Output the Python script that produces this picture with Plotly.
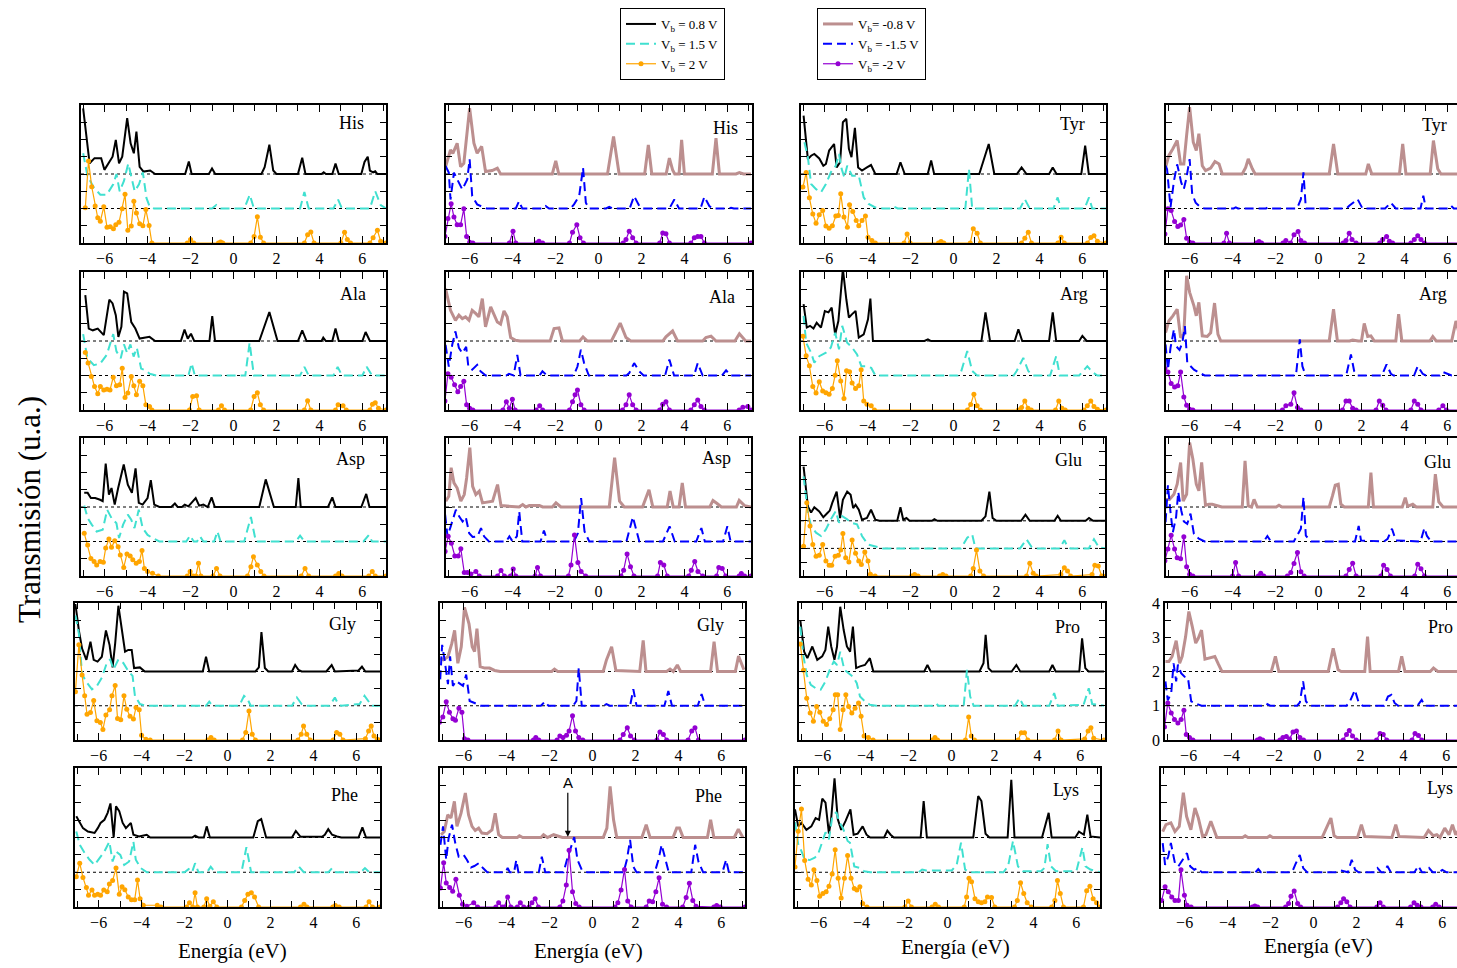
import plotly.graph_objects as go

# ------------------------------------------------------------------
# DATA  (energy eV, transmission)
# positive bias: p08 = 0.8 V, p15 = 1.5 V, p20 = 2 V
# negative bias: m08 = -0.8 V, m15 = -1.5 V, m20 = -2 V
# ------------------------------------------------------------------
his_p08 = [(-7.0,1.9),(-6.7,0.31),(-6.47,0.46),(-6.16,0.46),(-6.01,0.12),(-5.86,0.26),(-5.63,0.5),(-5.48,0.99),(-5.33,0.31),(-5.18,0.5),(-4.95,1.62),(-4.79,0.89),(-4.64,0.6),(-4.52,1.23),(-4.37,0.21),(-4.19,0.07),(-3.88,0.1),(-3.65,0),(-2.25,0),(-2.08,0.36),(-1.95,0),(-1.15,0),(-1.0,0.16),(-0.85,0),(1.3,0),(1.45,0.2),(1.67,0.85),(1.85,0.1),(2.0,0),(3.0,0),(3.2,0.47),(3.35,0),(4.1,0),(4.2,0.05),(4.3,0),(4.6,0),(4.75,0.3),(4.9,0),(5.95,0),(6.1,0.35),(6.25,0.5),(6.35,0.1),(6.5,0.05),(6.6,0.08),(6.7,0),(7.1,0)]
his_p15 = [(-7.0,1.6),(-6.8,0.95),(-6.5,0.6),(-6.2,0.4),(-5.9,0.4),(-5.6,0.7),(-5.45,1.0),(-5.3,0.5),(-5.1,0.8),(-4.9,1.3),(-4.75,0.9),(-4.6,0.5),(-4.4,0.7),(-4.22,1.05),(-4.05,0.3),(-3.9,0.05),(-3.7,0),(-1.0,0),(-0.8,0.1),(-0.6,0),(0.5,0),(0.76,0.4),(0.95,0),(3.1,0),(3.3,0.48),(3.5,0),(4.65,0),(4.87,0.26),(5.05,0),(6.35,0),(6.6,0.5),(6.85,0.1),(7.1,0)]
his_p20 = [(-6.9,1.02),(-6.75,2.38),(-6.6,1.63),(-6.44,1.07),(-6.32,0.73),(-6.2,0.63),(-6.04,1.05),(-5.89,0.46),(-5.74,0.47),(-5.59,0.41),(-5.48,0.53),(-5.33,0.6),(-5.18,0.99),(-5.05,1.41),(-4.92,0.37),(-4.76,0.49),(-4.64,1.21),(-4.52,0.87),(-4.37,0.56),(-4.22,0.5),(-4.08,0.97),(-3.93,0.51),(-3.8,0),(-2.15,0),(-2.0,0.1),(-1.85,0),(-0.7,0),(-0.6,0.03),(-0.5,0),(0.8,0),(0.96,0.19),(1.11,0.76),(1.25,0.17),(1.4,0),(3.3,0),(3.45,0.24),(3.6,0.32),(3.75,0),(5.0,0),(5.17,0.31),(5.3,0.1),(5.45,0),(6.35,0),(6.5,0.15),(6.7,0.37),(6.85,0.05),(7.1,0)]

ala_p08 = [(-6.9,1.33),(-6.74,0.36),(-6.55,0.31),(-6.32,0.36),(-6.04,0.17),(-5.78,1.2),(-5.63,1.09),(-5.48,0.75),(-5.36,0.12),(-5.22,0.41),(-5.1,1.43),(-4.95,1.38),(-4.76,0.55),(-4.57,0.36),(-4.37,0.07),(-4.11,0.1),(-3.91,0.12),(-3.65,0),(-2.45,0),(-2.28,0.33),(-2.13,0.07),(-1.98,0.21),(-1.83,0),(-1.12,0),(-0.99,0.72),(-0.86,0),(1.2,0),(1.67,0.84),(2.05,0),(3.0,0),(3.2,0.31),(3.4,0),(4.1,0),(4.18,0.1),(4.3,0),(4.6,0),(4.75,0.36),(4.9,0),(6.0,0),(6.15,0.26),(6.35,0),(7.1,0)]
ala_p15 = [(-7.0,1.2),(-6.8,0.5),(-6.5,0.3),(-6.2,0.35),(-5.9,0.6),(-5.6,1.2),(-5.45,0.7),(-5.25,0.5),(-5.1,0.9),(-4.95,0.65),(-4.8,0.9),(-4.65,0.55),(-4.5,0.8),(-4.3,0.2),(-4.1,0.15),(-3.9,0.05),(-3.6,0),(-2.1,0),(-1.95,0.35),(-1.8,0),(0.55,0),(0.75,0.95),(0.95,0),(3.1,0),(3.3,0.25),(3.5,0),(4.65,0),(4.85,0.25),(5.05,0),(6.0,0),(6.2,0.25),(6.45,0),(7.1,0)]
ala_p20 = [(-6.9,1.67),(-6.77,1.36),(-6.62,0.97),(-6.47,0.68),(-6.32,0.47),(-6.2,0.68),(-6.04,0.58),(-5.89,0.6),(-5.75,0.58),(-5.6,0.95),(-5.45,0.7),(-5.3,0.73),(-5.18,1.21),(-5.05,0.36),(-4.92,0.49),(-4.76,0.97),(-4.64,0.7),(-4.52,0.44),(-4.37,0.83),(-4.22,0.7),(-4.08,0.15),(-3.91,0.1),(-3.8,0),(-2.05,0),(-1.9,0.39),(-1.72,0.41),(-1.6,0),(-0.7,0),(-0.56,0.12),(-0.42,0),(0.8,0),(0.96,0.39),(1.11,0.5),(1.25,0.15),(1.4,0),(3.3,0),(3.45,0.27),(3.6,0),(4.75,0),(4.87,0.15),(5.1,0.12),(5.25,0),(6.35,0),(6.47,0.17),(6.6,0.21),(6.75,0.05),(7.1,0)]

asp_p08 = [(-6.95,0.41),(-6.79,0.41),(-6.64,0.26),(-6.44,0.26),(-6.21,0.21),(-6.09,0.17),(-5.95,1.26),(-5.8,0.36),(-5.68,0.55),(-5.53,0.07),(-5.37,0.55),(-5.11,1.23),(-4.92,0.65),(-4.73,0.41),(-4.56,1.12),(-4.41,0.12),(-4.23,0.07),(-4.0,0.26),(-3.85,0.78),(-3.69,0.07),(-3.45,0),(-2.9,0),(-2.73,0.1),(-2.6,0),(-2.4,0),(-2.27,0.07),(-2.1,0.02),(-1.76,0.26),(-1.6,0.04),(-1.4,0.07),(-1.2,0),(-1.02,0.28),(-0.87,0),(1.2,0),(1.5,0.8),(1.88,0),(2.9,0),(3.02,0.84),(3.13,0),(4.4,0),(4.6,0.28),(4.75,0),(5.95,0),(6.18,0.38),(6.33,0),(7.1,0)]
asp_p15 = [(-6.95,1.04),(-6.79,0.68),(-6.6,0.49),(-6.37,0.29),(-6.09,0.34),(-5.88,0.92),(-5.68,0.68),(-5.45,0.53),(-5.33,0.1),(-5.14,0.49),(-4.92,0.78),(-4.76,0.63),(-4.61,0.39),(-4.41,0.92),(-4.23,0.39),(-4.0,0.19),(-3.77,0.1),(-3.45,0),(-2.2,0),(-2.02,0.17),(-1.85,0),(-1.7,0),(-1.56,0.15),(-1.4,0),(-0.9,0),(-0.75,0.29),(-0.6,0),(0.5,0),(0.81,0.71),(1.04,0),(2.9,0),(3.1,0.17),(3.3,0),(6.05,0),(6.3,0.19),(6.45,0),(7.1,0)]
asp_p20 = [(-6.95,1.24),(-6.79,0.9),(-6.64,0.51),(-6.49,0.42),(-6.37,0.32),(-6.21,0.42),(-6.06,0.4),(-5.95,0.81),(-5.8,1.07),(-5.68,0.83),(-5.53,1.02),(-5.37,0.85),(-5.27,0.61),(-5.11,0.25),(-4.96,0.64),(-4.81,0.58),(-4.69,0.47),(-4.53,0.37),(-4.38,0.42),(-4.26,0.74),(-4.15,0.22),(-4.0,0.13),(-3.77,0.08),(-3.5,0),(-2.15,0),(-2.02,0.13),(-1.88,0),(-1.75,0),(-1.63,0.37),(-1.52,0),(-0.95,0),(-0.79,0.22),(-0.63,0),(0.65,0),(0.81,0.27),(0.93,0.56),(1.11,0.32),(1.27,0.13),(1.42,0),(3.15,0),(3.33,0.22),(3.5,0),(4.75,0),(4.9,0.07),(5.05,0),(6.3,0),(6.46,0.13),(6.6,0),(7.1,0)]

gly_p08 = [(-7.08,1.97),(-6.92,1.2),(-6.77,0.67),(-6.57,0.34),(-6.38,0.87),(-6.23,0.34),(-6.05,0.29),(-5.85,0.43),(-5.66,1.2),(-5.49,0.77),(-5.35,0.12),(-5.23,0.82),(-5.08,1.92),(-4.92,1.25),(-4.77,0.58),(-4.62,0.63),(-4.46,0.63),(-4.35,0.1),(-4.08,0.12),(-3.85,0),(-1.15,0),(-1.0,0.43),(-0.85,0),(1.3,0),(1.46,0.12),(1.58,1.15),(1.74,0.1),(1.9,0),(3.0,0),(3.15,0.19),(3.3,0.05),(3.45,0),(4.6,0),(4.85,0.19),(5.0,0),(6.1,0.03),(6.26,0.14),(6.42,0),(7.1,0)]
gly_p15 = [(-7.08,2.64),(-6.92,2.11),(-6.77,0.91),(-6.54,0.67),(-6.31,0.48),(-6.08,0.58),(-5.85,0.82),(-5.62,1.25),(-5.46,1.35),(-5.31,1.06),(-5.08,1.35),(-4.85,1.25),(-4.62,1.01),(-4.42,0.87),(-4.31,0.29),(-4.08,0.05),(-3.8,0),(-1.0,0),(-0.85,0.12),(-0.7,0),(0.55,0),(0.77,0.29),(0.92,0.21),(1.08,0),(3.0,0),(3.23,0.24),(3.45,0.05),(3.6,0),(4.75,0),(5.0,0.24),(5.15,0.05),(5.3,0),(6.15,0.05),(6.38,0.29),(6.6,0.1),(6.7,0),(7.1,0)]
gly_p20 = [(-7.08,1.41),(-6.92,2.78),(-6.77,1.9),(-6.65,1.29),(-6.54,0.75),(-6.38,0.8),(-6.23,1.15),(-6.08,0.56),(-5.92,0.51),(-5.8,0.31),(-5.66,0.73),(-5.49,0.88),(-5.38,1.29),(-5.23,1.59),(-5.12,0.63),(-4.97,0.59),(-4.82,1.29),(-4.69,0.9),(-4.54,0.69),(-4.38,0.61),(-4.26,0.95),(-4.11,0.88),(-4.0,0.14),(-3.8,0.02),(-3.6,0),(-0.92,0),(-0.77,0.07),(-0.62,0),(0.7,0),(0.85,0.22),(1.0,0.85),(1.15,0.17),(1.3,0),(3.28,0),(3.43,0.17),(3.54,0.41),(3.69,0.17),(3.85,0),(4.92,0),(5.08,0.22),(5.23,0.17),(5.38,0),(6.42,0.04),(6.57,0.26),(6.69,0.41),(6.82,0.12),(6.97,0.02),(7.1,0)]

phe_p08 = [(-7.04,0.61),(-6.88,0.42),(-6.73,0.27),(-6.5,0.17),(-6.19,0.13),(-6.04,0.27),(-5.91,0.42),(-5.73,0.51),(-5.58,0.71),(-5.45,0.98),(-5.3,0),(-5.19,0.9),(-5.04,0.76),(-4.88,0.42),(-4.73,0.27),(-4.5,0.42),(-4.38,0.08),(-4.12,0.03),(-3.76,0.08),(-3.6,0),(-1.65,0),(-1.51,0.05),(-1.35,0),(-1.1,0),(-0.97,0.32),(-0.82,0),(1.2,0),(1.41,0.47),(1.57,0.53),(1.8,0),(3.0,0),(3.18,0.19),(3.4,0.02),(4.4,0.02),(4.53,0.08),(4.69,0.24),(4.87,0.08),(5.1,0.03),(5.3,0),(6.1,0),(6.28,0.29),(6.45,0),(7.1,0)]
phe_p15 = [(-7.04,1.17),(-6.88,0.79),(-6.65,0.55),(-6.42,0.36),(-6.19,0.21),(-5.96,0.4),(-5.73,0.6),(-5.5,0.88),(-5.35,0.31),(-5.19,0.6),(-4.99,0.5),(-4.81,0.21),(-4.58,0.31),(-4.38,0.88),(-4.27,0.36),(-4.04,0.12),(-3.75,0),(-2.0,0),(-1.81,0.09),(-1.65,0),(-1.51,0.26),(-1.35,0),(-0.95,0),(-0.78,0.16),(-0.58,0),(0.65,0),(0.88,0.72),(1.1,0),(3.1,0),(3.33,0.16),(3.55,0),(4.7,0),(4.87,0.12),(5.05,0),(6.2,0),(6.4,0.12),(6.6,0),(7.1,0)]
phe_p20 = [(-7.04,0.87),(-6.88,1.26),(-6.73,0.85),(-6.57,0.56),(-6.47,0.34),(-6.31,0.49),(-6.19,0.34),(-6.04,0.37),(-5.91,0.34),(-5.76,0.49),(-5.6,0.44),(-5.5,0.66),(-5.35,0.76),(-5.19,1.12),(-5.04,0.37),(-4.91,0.58),(-4.78,0.5),(-4.62,0.29),(-4.47,0.21),(-4.32,0.21),(-4.19,0.78),(-4.07,0.24),(-3.92,0.05),(-3.27,0.05),(-3.1,0),(-1.9,0),(-1.77,0.12),(-1.62,0),(-1.51,0.41),(-1.4,0),(-1.1,0),(-0.97,0.24),(-0.82,0.02),(-0.66,0.15),(-0.5,0),(0.65,0),(0.8,0.19),(0.95,0.37),(1.11,0.41),(1.26,0.29),(1.45,0),(3.4,0),(3.56,0.08),(3.7,0),(4.9,0),(5.02,0.04),(5.2,0),(6.45,0),(6.59,0.15),(6.75,0),(7.1,0)]

his_m08 = [(-7.12,0.21),(-6.89,0.7),(-6.78,0.6),(-6.58,0.89),(-6.42,0.21),(-6.27,0.31),(-6.0,1.91),(-5.8,0.89),(-5.65,0.6),(-5.44,0.8),(-5.26,0.07),(-4.95,0.1),(-4.71,0.17),(-4.56,0),(-2.15,0),(-1.99,0.38),(-1.85,0),(0.42,0),(0.7,1.09),(0.96,0),(2.15,0),(2.32,0.84),(2.48,0),(3.15,0),(3.3,0.46),(3.45,0.12),(3.55,0),(3.75,0),(3.87,0.99),(4.0,0),(5.3,0),(5.47,1.04),(5.63,0),(6.4,0),(6.56,0.04),(6.75,0),(7.1,0)]
his_m15 = [(-7.12,1.23),(-6.97,1.04),(-6.89,0.26),(-6.73,1.04),(-6.5,0.75),(-6.34,0.55),(-6.11,0.84),(-6.0,1.43),(-5.88,0.36),(-5.65,0.12),(-5.41,0.05),(-5.2,0),(-3.85,0),(-3.7,0.21),(-3.55,0),(-2.6,0),(-2.46,0.07),(-2.3,0),(-1.3,0),(-1.14,0.12),(-0.9,0.36),(-0.72,1.18),(-0.59,0.17),(-0.45,0),(0.35,0),(0.5,0.05),(0.65,0),(1.45,0),(1.66,0.36),(1.9,0.07),(2.05,0),(3.3,0),(3.53,0.26),(3.75,0),(4.75,0),(4.93,0.34),(5.16,0.07),(5.3,0),(6.05,0),(6.17,0.02),(6.3,0),(7.1,0)]
his_m20 = [(-7.15,0.19),(-7.01,0.71),(-6.86,1.14),(-6.73,0.75),(-6.58,0.53),(-6.42,0.53),(-6.27,0.99),(-6.14,0.19),(-6.0,0.02),(-5.85,0),(-4.15,0),(-3.98,0.34),(-3.85,0),(-2.9,0),(-2.77,0.05),(-2.6,0),(-1.35,0),(-1.21,0.31),(-1.01,0.53),(-0.86,0.15),(-0.7,0),(1.15,0),(1.28,0.1),(1.43,0.34),(1.59,0.15),(1.75,0),(2.85,0),(2.99,0.29),(3.14,0.27),(3.3,0),(4.3,0),(4.46,0.15),(4.62,0.19),(4.77,0.19),(4.93,0),(7.1,0)]

ala_m08 = [(-7.12,1.52),(-6.89,0.89),(-6.66,0.6),(-6.5,0.75),(-6.34,0.65),(-6.19,0.7),(-6.03,0.6),(-5.88,0.89),(-5.72,0.8),(-5.57,0.7),(-5.41,1.23),(-5.26,0.41),(-5.02,0.99),(-4.87,0.8),(-4.71,0.55),(-4.56,0.49),(-4.4,0.87),(-4.25,0.7),(-4.09,0.1),(-3.86,0.02),(-3.65,0),(-2.25,0),(-2.07,0.36),(-1.84,0.38),(-1.68,0),(-0.88,0),(-0.72,0.12),(-0.52,0),(0.6,0),(0.81,0.26),(1.01,0.52),(1.28,0.1),(1.5,0),(3.0,0),(3.14,0.12),(3.45,0.29),(3.68,0),(4.85,0),(5.0,0.1),(5.24,0.14),(5.47,0),(6.35,0),(6.56,0.21),(6.85,0),(7.1,0)]
ala_m15 = [(-7.12,0.89),(-6.97,0.26),(-6.81,0.89),(-6.66,1.28),(-6.5,0.8),(-6.34,0.65),(-6.16,0.83),(-6.06,0.26),(-5.88,0.17),(-5.65,0.31),(-5.49,0.12),(-5.25,0),(-4.3,0),(-4.17,0.05),(-3.95,0),(-3.78,0.6),(-3.63,0),(-2.75,0),(-2.61,0.12),(-2.4,0),(-1.15,0),(-0.98,0.26),(-0.82,0.75),(-0.67,0.36),(-0.45,0),(1.3,0),(1.43,0.07),(1.66,0.36),(1.9,0.12),(2.1,0),(3.1,0),(3.3,0.46),(3.52,0),(4.45,0),(4.62,0.36),(4.85,0),(5.75,0),(5.94,0.15),(6.15,0),(7.1,0)]
ala_m20 = [(-7.15,0.26),(-7.01,1.05),(-6.86,0.95),(-6.7,0.73),(-6.55,0.53),(-6.42,0.68),(-6.27,0.83),(-6.14,0.15),(-6.0,0.05),(-5.85,0),(-4.45,0),(-4.29,0.24),(-4.15,0.05),(-4.01,0.31),(-3.88,0),(-2.9,0),(-2.74,0.12),(-2.6,0),(-1.35,0),(-1.21,0.24),(-1.09,0.44),(-0.98,0.58),(-0.82,0.15),(-0.67,0),(1.12,0),(1.28,0.15),(1.43,0.44),(1.59,0.15),(1.75,0),(2.85,0),(2.99,0.17),(3.14,0.24),(3.3,0),(4.3,0),(4.46,0.15),(4.62,0.29),(4.77,0.1),(4.93,0),(6.55,0),(6.72,0.08),(6.95,0.1),(7.1,0)]

asp_m08 = [(-7.11,0.17),(-6.97,0.31),(-6.86,1.14),(-6.73,0.7),(-6.58,0.55),(-6.41,0.17),(-6.25,0.36),(-6.14,0.84),(-5.99,1.72),(-5.86,0.6),(-5.71,0.36),(-5.55,0.46),(-5.4,0.12),(-5.16,0.14),(-4.93,0.17),(-4.7,0.65),(-4.54,0.04),(-3.7,0),(-3.53,0.07),(-3.38,0),(-3.22,0.04),(-2.75,0.04),(-2.6,0),(-2.15,0),(-1.98,0.12),(-1.75,0),(0.5,0),(0.75,1.43),(0.98,0.17),(1.2,0),(2.05,0),(2.35,0.5),(2.53,0),(3.2,0),(3.33,0.46),(3.48,0),(3.75,0),(3.9,0.7),(4.05,0),(5.18,0),(5.33,0.19),(5.52,0.1),(5.72,0),(6.42,0),(6.55,0.19),(6.8,0.04),(7.1,0)]
asp_m15 = [(-7.14,0.78),(-7.03,0.15),(-6.88,0.44),(-6.64,0.92),(-6.49,0.73),(-6.33,0.58),(-6.18,0.71),(-6.02,0.24),(-5.86,0.13),(-5.63,0.15),(-5.47,0.39),(-5.33,0.15),(-5.1,0),(-4.3,0),(-4.15,0.15),(-4.0,0),(-3.8,0.15),(-3.69,0.87),(-3.55,0),(-2.7,0),(-2.54,0.32),(-2.38,0),(-1.15,0),(-0.96,0.24),(-0.81,1.26),(-0.65,0.29),(-0.43,0),(1.3,0),(1.6,0.71),(1.9,0),(3.0,0),(3.31,0.44),(3.55,0),(4.55,0),(4.79,0.39),(4.95,0),(5.8,0),(6.0,0.44),(6.15,0),(7.1,0)]
asp_m20 = [(-7.14,0.71),(-7.0,1.15),(-6.85,0.95),(-6.69,0.58),(-6.53,0.58),(-6.41,0.79),(-6.25,0.1),(-6.1,0.1),(-5.94,0.06),(-5.71,0.13),(-5.55,0),(-4.7,0),(-4.54,0.16),(-4.38,0),(-4.1,0),(-3.97,0.2),(-3.85,0),(-2.95,0),(-2.84,0.25),(-2.7,0),(-1.4,0),(-1.28,0.32),(-1.12,1.19),(-0.96,0.39),(-0.81,0.13),(-0.6,0),(1.05,0),(1.17,0.17),(1.33,0.64),(1.49,0.27),(1.65,0),(2.75,0),(2.88,0.39),(3.04,0.32),(3.2,0),(4.2,0),(4.32,0.17),(4.48,0.42),(4.63,0.13),(4.85,0),(5.5,0),(5.6,0.25),(5.76,0.22),(5.92,0),(6.55,0),(6.65,0.07),(6.8,0),(7.1,0)]

gly_m08 = [(-7.09,0.39),(-6.94,0.34),(-6.73,0.43),(-6.55,0.82),(-6.42,1.2),(-6.27,0.24),(-6.11,0.72),(-5.96,1.87),(-5.75,1.39),(-5.6,0.72),(-5.49,0.58),(-5.38,1.25),(-5.23,0.14),(-5.02,0.1),(-4.79,0.1),(-4.56,0.03),(-4.3,0),(-1.9,0),(-1.77,0.07),(-1.62,0),(0.5,0),(0.65,0.34),(0.89,0.72),(1.09,0.03),(2.2,0),(2.36,0.91),(2.49,0),(3.45,0),(3.61,0.07),(3.76,0),(3.95,0.19),(4.1,0),(5.5,0),(5.66,0.87),(5.82,0),(6.65,0),(6.8,0.45),(7.05,0.05)]
gly_m15 = [(-7.09,0.77),(-7.0,1.78),(-6.89,1.35),(-6.73,0.63),(-6.63,1.44),(-6.5,0.58),(-6.35,0.72),(-6.16,0.63),(-6.03,0.58),(-5.88,0.91),(-5.72,0.14),(-5.49,0.08),(-5.2,0),(-2.4,0),(-2.22,0.12),(-2.05,0),(-0.9,0),(-0.75,0.14),(-0.64,1.1),(-0.5,0),(0.5,0),(0.65,0.05),(0.8,0),(1.75,0),(1.9,0.48),(2.05,0),(3.35,0),(3.53,0.43),(3.7,0),(4.9,0),(5.08,0.34),(5.25,0),(7.1,0)]
gly_m20 = [(-7.12,0.52),(-6.97,0.67),(-6.81,1.12),(-6.66,0.81),(-6.5,0.62),(-6.38,0.58),(-6.22,0.93),(-6.08,0.81),(-5.96,0.04),(-5.8,0),(-2.75,0),(-2.64,0.07),(-2.5,0),(-1.65,0),(-1.52,0.12),(-1.37,0.07),(-1.21,0.14),(-1.09,0.26),(-0.93,0.71),(-0.79,0.26),(-0.64,0.07),(-0.45,0),(1.28,0),(1.43,0.16),(1.62,0.36),(1.77,0.12),(1.95,0),(3.0,0),(3.14,0.23),(3.3,0.16),(3.45,0),(4.45,0),(4.62,0.26),(4.77,0.36),(4.93,0),(7.1,0)]

phe_m08 = [(-7.05,0.08),(-6.9,0.17),(-6.74,0.65),(-6.59,0.56),(-6.43,1.04),(-6.31,0.32),(-6.12,0.7),(-5.92,1.28),(-5.77,0.65),(-5.61,0.32),(-5.46,0.2),(-5.3,0.27),(-5.15,0.13),(-4.91,0.11),(-4.68,0.22),(-4.53,0.7),(-4.37,0.08),(-4.2,0),(-3.5,0),(-3.4,0.05),(-3.25,0),(-2.4,0),(-2.28,0.08),(-2.1,0),(-1.81,0.08),(-1.65,0.05),(-1.4,0),(0.5,0),(0.67,0.27),(0.82,1.47),(0.98,0.51),(1.13,0),(2.3,0),(2.5,0.37),(2.68,0),(3.75,0),(3.92,0.27),(4.05,0.27),(4.22,0),(5.35,0),(5.5,0.51),(5.65,0),(6.6,0),(6.79,0.24),(7.0,0)]
phe_m15 = [(-7.08,0.79),(-6.96,1.32),(-6.81,0.36),(-6.7,0.98),(-6.54,1.37),(-6.39,0.84),(-6.23,0.45),(-6.0,0.5),(-5.85,0.36),(-5.66,0.14),(-5.5,0.18),(-5.3,0.26),(-5.1,0.12),(-4.9,0),(-4.05,0),(-3.95,0.12),(-3.85,0),(-3.65,0),(-3.55,0.35),(-3.45,0),(-2.5,0),(-2.36,0.45),(-2.2,0),(-1.35,0),(-1.19,0.36),(-1.0,0.69),(-0.85,1.01),(-0.7,0.36),(-0.5,0.07),(-0.25,0),(1.45,0),(1.6,0.36),(1.75,0.93),(1.9,0.16),(2.05,0),(2.9,0),(3.07,0.36),(3.22,0.79),(3.38,0.36),(3.55,0),(4.6,0),(4.78,0.79),(4.93,0.31),(5.15,0),(6.05,0),(6.22,0.36),(6.35,0),(7.1,0)]
phe_m20 = [(-7.08,0.55),(-6.93,1.27),(-6.81,0.69),(-6.65,0.56),(-6.51,0.45),(-6.36,0.8),(-6.2,0.34),(-6.05,0.08),(-5.85,0.02),(-5.53,0.12),(-5.35,0),(-4.5,0),(-4.37,0.12),(-4.2,0),(-4.1,0),(-3.95,0.29),(-3.8,0),(-3.5,0),(-3.36,0.12),(-3.2,0),(-2.95,0),(-2.82,0.12),(-2.67,0.24),(-2.52,0),(-1.52,0),(-1.38,0.17),(-1.22,0.63),(-1.09,1.63),(-0.93,0.44),(-0.78,0.1),(-0.62,0),(1.05,0),(1.18,0.12),(1.33,0.49),(1.49,1.08),(1.64,0.17),(1.8,0),(2.5,0),(2.64,0.17),(2.8,0.15),(2.95,0.44),(3.1,0.84),(3.26,0.08),(3.45,0),(4.2,0),(4.36,0.27),(4.51,0.68),(4.67,0.19),(4.82,0.02),(5.65,0),(5.78,0.04),(5.95,0),(7.1,0)]

tyr_p08 = [(-6.98,1.69),(-6.78,0.43),(-6.63,0.53),(-6.48,0.58),(-6.25,0.45),(-6.06,0.24),(-5.94,0.29),(-5.79,0.68),(-5.56,0.87),(-5.44,0.19),(-5.28,0.34),(-5.15,1.5),(-4.99,1.6),(-4.87,0.73),(-4.75,0.49),(-4.59,1.34),(-4.44,0.19),(-4.26,0.1),(-4.03,0.19),(-3.84,0.26),(-3.64,0),(-2.65,0),(-2.47,0.34),(-2.27,0),(-1.2,0),(-1.04,0.39),(-0.9,0),(1.2,0),(1.64,0.87),(1.9,0),(2.95,0),(3.17,0.19),(3.4,0),(4.45,0),(4.62,0.19),(4.8,0),(5.95,0),(6.13,0.82),(6.3,0),(7.1,0)]
tyr_p15 = [(-6.94,1.92),(-6.78,1.49),(-6.63,0.71),(-6.4,0.56),(-6.17,0.47),(-5.94,0.71),(-5.71,1.05),(-5.48,1.24),(-5.33,1.58),(-5.21,1.15),(-5.08,0.9),(-4.95,1.24),(-4.72,0.95),(-4.41,0.95),(-4.18,0.32),(-3.95,0.13),(-3.64,0.03),(-3.3,0),(-2.95,0),(-2.8,0.06),(-2.6,0),(0.55,0),(0.72,1.15),(0.87,0),(3.1,0),(3.32,0.27),(3.55,0),(4.65,0),(4.85,0.32),(5.0,0),(6.1,0),(6.31,0.32),(6.46,0),(7.1,0)]
tyr_p20 = [(-7.01,1.62),(-6.86,2.04),(-6.71,1.31),(-6.55,0.84),(-6.4,0.57),(-6.25,0.82),(-6.09,0.94),(-5.94,0.49),(-5.79,0.43),(-5.64,0.5),(-5.48,0.78),(-5.36,0.8),(-5.25,1.43),(-5.1,0.75),(-4.94,0.46),(-4.84,1.11),(-4.69,0.91),(-4.53,0.65),(-4.41,0.5),(-4.26,0.65),(-4.1,0.78),(-3.98,0.17),(-3.8,0.07),(-3.64,0),(-2.3,0),(-2.16,0.26),(-2.02,0),(-0.7,0),(-0.58,0.04),(-0.45,0),(0.78,0),(0.92,0.41),(1.1,0.28),(1.25,0),(3.17,0),(3.32,0.14),(3.48,0.31),(3.63,0),(4.86,0),(5.01,0.17),(5.16,0),(6.24,0),(6.39,0.16),(6.54,0.21),(6.7,0.05),(7.1,0)]

arg_p08 = [(-6.98,1.07),(-6.83,0.39),(-6.68,0.44),(-6.52,0.36),(-6.37,0.53),(-6.17,0.39),(-5.99,0.87),(-5.82,0.83),(-5.67,0.97),(-5.51,0.19),(-5.36,0.58),(-5.15,2.09),(-4.99,1.21),(-4.87,0.68),(-4.72,0.78),(-4.56,0.87),(-4.41,0.1),(-4.18,0.19),(-3.98,0.63),(-3.87,1.23),(-3.75,0),(-1.35,0),(-1.19,0.05),(-1.05,0),(1.3,0),(1.49,0.83),(1.7,0),(2.85,0),(3.02,0.34),(3.2,0),(4.45,0),(4.62,0.83),(4.78,0),(5.85,0),(6.0,0.15),(6.2,0),(7.1,0)]
arg_p15 = [(-6.98,1.73),(-6.86,0.95),(-6.63,0.66),(-6.48,0.37),(-6.25,0.56),(-5.94,0.66),(-5.71,0.81),(-5.51,1.24),(-5.33,0.76),(-5.18,1.44),(-4.95,0.95),(-4.72,0.81),(-4.49,0.61),(-4.29,0.27),(-4.03,0.27),(-3.83,0.22),(-3.64,0),(0.2,0),(0.34,0.08),(0.64,0.71),(0.87,0.13),(1.1,0),(2.8,0),(2.94,0.13),(3.25,0.51),(3.48,0.13),(3.7,0),(4.5,0),(4.78,0.56),(4.95,0),(5.85,0),(6.0,0.1),(6.23,0.27),(6.46,0.1),(6.7,0),(7.1,0)]
arg_p20 = [(-7.01,2.14),(-6.86,1.57),(-6.71,1.28),(-6.55,0.68),(-6.4,0.49),(-6.25,0.82),(-6.09,0.55),(-5.94,0.5),(-5.79,0.46),(-5.64,0.62),(-5.51,1.01),(-5.41,1.43),(-5.25,0.84),(-5.1,0.33),(-4.98,1.14),(-4.84,1.11),(-4.72,0.78),(-4.56,0.62),(-4.41,0.7),(-4.3,1.17),(-4.18,0.26),(-4.03,0.17),(-3.83,0.12),(-3.68,0),(0.65,0),(0.8,0.16),(0.95,0.46),(1.1,0.12),(1.25,0),(3.02,0),(3.17,0.07),(3.32,0.26),(3.47,0.05),(3.62,0),(4.75,0),(4.9,0.26),(5.05,0.05),(5.2,0),(6.08,0),(6.23,0.12),(6.39,0.26),(6.54,0.1),(6.7,0.02),(7.1,0)]

glu_p08 = [(-6.98,1.96),(-6.78,0.52),(-6.63,0.3),(-6.48,0.49),(-6.25,0.34),(-6.06,0.13),(-5.87,0.28),(-5.76,0.37),(-5.64,0.66),(-5.44,1.06),(-5.28,0.1),(-5.15,0.76),(-4.95,1.06),(-4.79,0.94),(-4.67,0.46),(-4.56,0.58),(-4.41,0.4),(-4.26,0.04),(-4.03,0.1),(-3.84,0.4),(-3.64,0.04),(-3.45,0),(-2.62,0),(-2.47,0.49),(-2.34,0.04),(-2.19,0.1),(-2.05,0),(-1.0,0),(-0.89,0.06),(-0.75,0),(1.3,0),(1.49,0.16),(1.67,1.06),(1.82,0.1),(2.0,0),(3.15,0),(3.35,0.22),(3.55,0),(4.7,0),(4.85,0.18),(5.0,0),(6.15,0),(6.31,0.1),(6.5,0),(7.1,0)]
glu_p15 = [(-6.98,2.61),(-6.78,1.29),(-6.63,0.81),(-6.4,0.57),(-6.17,0.45),(-5.94,0.69),(-5.71,1.05),(-5.48,1.35),(-5.33,0.93),(-5.18,1.17),(-4.95,1.05),(-4.75,0.93),(-4.49,0.87),(-4.26,0.45),(-3.98,0.14),(-3.64,0.06),(-3.3,0),(0.35,0),(0.64,0.39),(0.87,0.51),(1.02,0),(3.1,0),(3.4,0.33),(3.63,0.06),(3.8,0),(4.95,0),(5.16,0.3),(5.31,0.06),(5.45,0),(6.3,0),(6.54,0.33),(6.77,0.03),(7.1,0)]
glu_p20 = [(-6.98,1.08),(-6.83,2.65),(-6.68,1.81),(-6.55,1.14),(-6.4,0.72),(-6.25,0.75),(-6.09,1.14),(-5.94,0.54),(-5.79,0.39),(-5.67,0.39),(-5.51,0.72),(-5.36,0.75),(-5.25,0.94),(-5.15,1.54),(-5.02,0.66),(-4.87,0.51),(-4.72,1.3),(-4.56,0.82),(-4.41,0.54),(-4.29,0.42),(-4.13,0.87),(-3.98,0.54),(-3.87,0.06),(-3.65,0),(-1.95,0),(-1.81,0.05),(-1.65,0),(-0.65,0),(-0.5,0.05),(-0.35,0),(0.8,0),(0.92,0.27),(1.07,0.94),(1.23,0.18),(1.4,0),(3.4,0),(3.55,0.46),(3.71,0.1),(3.85,0),(5.0,0.05),(5.16,0.3),(5.31,0.18),(5.45,0),(6.45,0.05),(6.58,0.39),(6.74,0.36),(6.9,0),(7.1,0)]

pro_p08 = [(-7.04,1.5),(-6.86,0.58),(-6.71,0.39),(-6.48,0.73),(-6.25,0.34),(-6.02,0.44),(-5.87,0.63),(-5.74,1.31),(-5.6,0.73),(-5.45,0.34),(-5.33,0.73),(-5.18,1.89),(-5.02,1.21),(-4.87,0.73),(-4.72,0.58),(-4.59,1.31),(-4.44,0.1),(-4.26,0.15),(-4.03,0.19),(-3.8,0.39),(-3.64,0),(-1.27,0),(-1.12,0.19),(-0.97,0),(1.3,0),(1.49,0.24),(1.59,1.07),(1.72,0.1),(1.87,0),(2.8,0),(3.02,0.19),(3.2,0),(4.55,0),(4.7,0.19),(4.85,0),(5.95,0),(6.08,0.97),(6.23,0.1),(6.38,0),(7.1,0)]
pro_p15 = [(-7.04,2.31),(-6.89,1.44),(-6.74,0.9),(-6.55,0.61),(-6.32,0.51),(-6.09,0.47),(-5.87,0.71),(-5.67,1.05),(-5.48,1.29),(-5.33,1.19),(-5.18,1.58),(-4.99,1.05),(-4.79,0.95),(-4.59,0.85),(-4.41,0.66),(-4.26,0.27),(-4.03,0.13),(-3.8,0.03),(-3.5,0),(-0.9,0),(-0.74,0.08),(-0.6,0),(0.57,0),(0.72,1.05),(0.87,0.27),(1.03,0),(2.95,0),(3.17,0.22),(3.35,0),(4.55,0),(4.78,0.37),(4.95,0),(6.15,0.03),(6.39,0.51),(6.55,0.05),(7.1,0)]
pro_p20 = [(-7.04,2.8),(-6.89,2.04),(-6.74,1.22),(-6.58,0.79),(-6.43,0.55),(-6.28,0.98),(-6.13,0.81),(-5.97,0.55),(-5.82,0.45),(-5.67,0.62),(-5.51,0.88),(-5.41,1.32),(-5.3,1.32),(-5.18,0.31),(-5.05,0.88),(-4.92,1.32),(-4.79,0.98),(-4.64,0.79),(-4.49,0.93),(-4.33,1.08),(-4.21,0.69),(-4.07,0.12),(-3.87,0.07),(-3.65,0),(-0.9,0),(-0.77,0.07),(-0.65,0),(0.65,0),(0.8,0.67),(0.92,0.12),(1.07,0),(3.1,0),(3.25,0.21),(3.4,0.21),(3.55,0),(4.8,0),(4.96,0.26),(5.1,0),(6.2,0.03),(6.36,0.26),(6.49,0.36),(6.62,0.05),(7.1,0)]

lys_p08 = [(-7.1,0.81),(-6.95,0.32),(-6.8,0.42),(-6.57,0.22),(-6.34,0.32),(-6.14,0.56),(-5.98,0.51),(-5.83,1.12),(-5.68,1.0),(-5.52,0.11),(-5.42,0.51),(-5.26,1.7),(-5.11,0.53),(-4.95,0.22),(-4.75,0.47),(-4.52,0.81),(-4.37,0.08),(-4.18,0.11),(-3.95,0.32),(-3.77,0.08),(-3.6,0),(-2.95,0),(-2.8,0.2),(-2.65,0.08),(-2.5,0),(-1.25,0),(-1.11,1.05),(-0.96,0),(1.2,0),(1.43,1.19),(1.58,1.05),(1.77,0.11),(1.95,0),(2.8,0),(2.97,1.66),(3.12,0),(4.4,0),(4.58,0.42),(4.71,0.71),(4.85,0),(5.95,0),(6.12,0.17),(6.35,0.08),(6.51,0.66),(6.66,0.03),(7.1,0)]
lys_p15 = [(-7.1,1.44),(-6.95,0.81),(-6.8,0.61),(-6.65,0.37),(-6.42,0.35),(-6.18,0.42),(-6.03,0.51),(-5.83,0.9),(-5.68,1.15),(-5.52,0.95),(-5.37,1.58),(-5.18,1.73),(-5.03,1.44),(-4.85,1.24),(-4.65,0.9),(-4.54,0.85),(-4.34,0.17),(-4.11,0.13),(-3.88,0.03),(-3.6,0),(-1.35,0),(-1.18,0.08),(-1.0,0.05),(0.2,0.05),(0.43,0.22),(0.63,0.85),(0.82,0.08),(1.0,0),(2.6,0),(2.82,0.17),(3.05,0.9),(3.28,0.17),(3.5,0.03),(4.35,0.03),(4.51,0.12),(4.66,0.81),(4.82,0.17),(5.05,0.03),(6.0,0.03),(6.28,0.71),(6.43,0.17),(6.65,0.08),(7.1,0)]
lys_p20 = [(-7.1,1.15),(-6.95,2.18),(-6.8,2.82),(-6.65,1.34),(-6.49,0.8),(-6.34,0.63),(-6.22,1.07),(-6.08,0.76),(-5.95,0.31),(-5.8,0.39),(-5.65,0.44),(-5.52,0.6),(-5.37,0.95),(-5.23,1.65),(-5.09,0.83),(-4.95,0.26),(-4.8,0.83),(-4.65,1.48),(-4.49,0.83),(-4.34,0.53),(-4.22,0.49),(-4.08,0.58),(-3.95,0.1),(-3.75,0),(-1.98,0),(-1.83,0.17),(-1.68,0),(-0.72,0),(-0.57,0.08),(-0.42,0),(0.78,0),(0.89,0.29),(1.0,0.83),(1.12,0.73),(1.28,0.24),(1.43,0.15),(1.58,0.12),(1.74,0.15),(1.86,0.29),(2.05,0.27),(2.2,0),(3.12,0),(3.25,0.19),(3.4,0.7),(3.55,0.39),(3.71,0.12),(3.9,0),(4.85,0),(5.0,0.19),(5.12,0.76),(5.25,0.39),(5.4,0),(6.33,0),(6.48,0.47),(6.63,0.6),(6.78,0.24),(6.94,0.12),(7.1,0)]

tyr_m08 = [(-7.12,0.19),(-6.97,0.53),(-6.78,0.73),(-6.58,0.97),(-6.42,0.29),(-6.27,0.29),(-6.14,1.12),(-6.0,1.94),(-5.83,0.92),(-5.69,0.68),(-5.57,1.17),(-5.41,0.24),(-5.26,0.1),(-5.02,0.17),(-4.82,0.36),(-4.63,0.29),(-4.48,0),(-3.55,0),(-3.39,0.19),(-3.27,0.44),(-3.08,0.15),(-2.95,0),(0.5,0),(0.7,0.87),(0.9,0),(2.2,0),(2.32,0.29),(2.48,0),(3.77,0),(3.92,0.87),(4.07,0),(5.2,0),(5.35,0.97),(5.55,0.15),(5.7,0),(7.1,0)]
tyr_m15 = [(-7.12,1.24),(-7.05,1.14),(-6.89,0.03),(-6.73,0.8),(-6.58,1.28),(-6.39,0.75),(-6.27,0.56),(-6.16,0.85),(-6.0,1.43),(-5.88,0.42),(-5.72,0.17),(-5.49,0.03),(-5.3,0),(-3.95,0),(-3.85,0.03),(-3.75,0),(-2.45,0),(-2.35,0.03),(-2.25,0),(-1.0,0),(-0.82,0.27),(-0.7,1.05),(-0.59,0),(1.3,0),(1.43,0.08),(1.82,0.27),(2.05,0),(3.1,0),(3.37,0.17),(3.6,0),(4.75,0),(4.88,0.37),(5.0,0),(6.05,0),(6.17,0.08),(6.3,0),(7.1,0)]
tyr_m20 = [(-7.15,0.26),(-7.01,0.99),(-6.86,0.94),(-6.7,0.62),(-6.55,0.48),(-6.42,0.52),(-6.27,0.68),(-6.14,0.14),(-6.0,0.02),(-5.85,0),(-4.4,0),(-4.28,0.28),(-4.15,0),(-2.9,0),(-2.77,0.04),(-2.65,0),(-1.65,0),(-1.52,0.07),(-1.3,0),(-1.14,0.24),(-0.95,0.33),(-0.82,0.07),(-0.65,0),(1.15,0),(1.28,0.07),(1.43,0.28),(1.56,0.1),(1.75,0),(2.85,0),(2.99,0.1),(3.17,0.19),(3.3,0.05),(3.45,0),(4.3,0),(4.46,0.1),(4.62,0.21),(4.77,0.1),(4.93,0),(7.1,0)]

arg_m08 = [(-7.12,0.24),(-6.97,0.58),(-6.78,0.73),(-6.58,0.92),(-6.42,0.1),(-6.27,0.19),(-6.14,1.89),(-6.0,1.41),(-5.8,1.02),(-5.69,0.73),(-5.57,1.12),(-5.41,0.15),(-5.18,0.13),(-5.02,0.24),(-4.84,1.1),(-4.68,0.19),(-4.55,0),(0.5,0),(0.7,0.92),(0.88,0),(1.45,0),(1.59,0.03),(1.85,0),(2.0,0),(2.13,0.51),(2.29,0.13),(2.44,0.15),(2.6,0),(3.6,0),(3.73,0.78),(3.88,0),(5.18,0),(5.32,0.13),(5.48,0),(6.2,0),(6.4,0.58),(6.6,0.1)]
arg_m15 = [(-7.12,0.9),(-7.01,0.17),(-6.89,0.8),(-6.73,1.34),(-6.63,0.85),(-6.47,0.74),(-6.34,0.95),(-6.22,1.43),(-6.11,0.37),(-5.8,0.17),(-5.49,0.06),(-5.3,0),(-1.05,0),(-0.87,1.05),(-0.75,0.27),(-0.6,0),(1.1,0),(1.3,0.03),(1.51,0.61),(1.66,0.13),(1.82,0),(2.95,0),(3.17,0.32),(3.37,0.05),(3.5,0),(4.45,0),(4.62,0.27),(4.85,0.05),(5.0,0),(5.65,0),(5.79,0.1),(6.0,0.05),(6.2,0),(7.1,0)]
arg_m20 = [(-7.15,1.2),(-7.01,1.1),(-6.86,0.77),(-6.7,0.67),(-6.55,0.7),(-6.42,1.1),(-6.27,0.38),(-6.14,0.14),(-6.0,0.02),(-5.85,0),(-1.68,0),(-1.52,0.12),(-1.29,0.17),(-1.14,0.5),(-0.98,0.07),(-0.82,0),(1.12,0),(1.28,0.26),(1.43,0.26),(1.59,0.05),(1.75,0),(2.68,0),(2.83,0.26),(2.99,0.14),(3.14,0),(4.3,0),(4.46,0.26),(4.62,0.17),(4.77,0),(5.6,0),(5.79,0.12),(5.95,0),(7.1,0)]

glu_m08 = [(-7.12,0.22),(-6.94,0.22),(-6.73,0.37),(-6.58,0.66),(-6.42,1.29),(-6.3,0.17),(-6.14,0.37),(-6.0,1.87),(-5.85,1.39),(-5.69,0.66),(-5.57,0.47),(-5.44,1.29),(-5.26,0.05),(-5.1,0.08),(-4.95,0.08),(-4.71,0.03),(-4.5,0),(-3.55,0),(-3.42,1.34),(-3.27,0.03),(-3.12,0),(-3.0,0.22),(-2.85,0),(-1.97,0),(-1.84,0.05),(-1.7,0),(0.5,0),(0.65,0.32),(0.78,0.63),(0.92,0.66),(1.04,0.08),(1.2,0),(2.32,0),(2.44,1.0),(2.56,0),(3.9,0),(4.04,0.27),(4.15,0.02),(4.39,0.08),(4.55,0),(5.32,0),(5.44,0.95),(5.6,0.15),(5.8,0),(7.1,0)]
glu_m15 = [(-7.12,0.56),(-7.01,1.63),(-6.89,0.85),(-6.78,0.27),(-6.63,0.71),(-6.53,1.44),(-6.39,0.9),(-6.27,0.58),(-6.11,0.51),(-5.96,0.81),(-5.8,0.22),(-5.57,0.08),(-5.3,0),(-2.55,0),(-2.38,0.16),(-2.22,0),(-1.15,0),(-0.98,0.17),(-0.82,0.37),(-0.7,1.29),(-0.59,0.17),(-0.35,0),(1.7,0),(1.87,0.45),(1.98,0.03),(3.05,0),(3.22,0.08),(3.42,0.37),(3.6,0.03),(4.75,0),(4.93,0.39),(5.05,0.16),(5.25,0),(7.1,0)]
glu_m20 = [(-7.15,0.44),(-7.01,0.78),(-6.86,1.18),(-6.7,0.78),(-6.58,0.53),(-6.42,0.5),(-6.27,1.14),(-6.14,0.27),(-6.0,0.05),(-5.85,0),(-4.0,0),(-3.86,0.39),(-3.72,0),(-2.8,0),(-2.69,0.08),(-2.55,0),(-1.45,0),(-1.29,0.1),(-1.14,0.36),(-0.98,0.68),(-0.82,0.12),(-0.67,0),(1.28,0),(1.43,0.19),(1.59,0.37),(1.75,0),(2.9,0),(3.03,0.31),(3.19,0.19),(3.35,0),(4.48,0),(4.62,0.34),(4.77,0.21),(4.93,0),(7.1,0)]

pro_m08 = [(-7.08,0.29),(-6.92,0.29),(-6.77,0.44),(-6.58,0.9),(-6.42,0.24),(-6.3,0.44),(-6.14,1.02),(-5.99,1.75),(-5.83,1.31),(-5.67,0.83),(-5.55,0.97),(-5.4,1.21),(-5.24,0.36),(-5.01,0.39),(-4.78,0.44),(-4.62,0.22),(-4.45,0),(-2.15,0),(-1.96,0.44),(-1.8,0),(0.5,0),(0.73,0.68),(0.96,0.05),(1.1,0),(2.2,0),(2.33,1.02),(2.45,0),(3.77,0),(3.92,0.44),(4.07,0),(5.25,0),(5.4,0.1),(5.6,0),(7.1,0)]
pro_m15 = [(-7.08,0.71),(-6.97,0.16),(-6.81,0.37),(-6.7,1.24),(-6.58,0.71),(-6.5,1.2),(-6.35,0.95),(-6.19,0.85),(-6.03,0.81),(-5.88,0.13),(-5.65,0.06),(-5.4,0),(-2.55,0),(-2.38,0.06),(-2.2,0),(-0.95,0),(-0.82,0.1),(-0.67,0.71),(-0.54,0.13),(-0.35,0),(1.35,0),(1.51,0.13),(1.74,0.46),(1.9,0.13),(2.1,0),(3.1,0),(3.28,0.27),(3.44,0.32),(3.59,0.08),(3.75,0),(4.65,0),(4.85,0.17),(5.0,0),(7.1,0)]
pro_m20 = [(-7.12,0.38),(-6.97,1.08),(-6.81,0.79),(-6.66,0.6),(-6.5,0.5),(-6.35,0.6),(-6.22,0.87),(-6.11,0.16),(-5.96,0.07),(-5.8,0),(-2.8,0),(-2.68,0.04),(-2.55,0),(-1.75,0),(-1.61,0.07),(-1.45,0.1),(-1.3,0.03),(-1.14,0.23),(-0.98,0.26),(-0.82,0.07),(-0.65,0),(1.2,0),(1.35,0.16),(1.48,0.28),(1.63,0.12),(1.8,0),(2.75,0),(2.91,0.19),(3.06,0.16),(3.22,0),(4.4,0),(4.54,0.19),(4.7,0.13),(4.85,0),(7.1,0)]

lys_m08 = [(-7.02,0.17),(-6.87,0.37),(-6.64,0.42),(-6.45,0.17),(-6.25,0.32),(-6.06,1.29),(-5.91,0.61),(-5.71,0.22),(-5.52,0.85),(-5.36,0.56),(-5.16,0.03),(-5.01,0.08),(-4.78,0.47),(-4.5,0),(-3.3,0),(-3.18,0.05),(-3.05,0),(-2.15,0),(-2.03,0.05),(-1.9,0),(0.4,0),(0.65,0.37),(0.81,0.56),(0.96,0.05),(1.1,0),(2.05,0),(2.23,0.37),(2.39,0.03),(3.65,0),(3.83,0.37),(3.98,0.03),(5.15,0),(5.35,0.2),(5.58,0.05),(5.74,0.08),(5.89,0),(6.11,0.27),(6.31,0.08),(6.47,0.37),(6.62,0.08),(6.75,0.2)]
lys_m15 = [(-7.02,0.84),(-6.91,0.21),(-6.76,0.46),(-6.64,0.84),(-6.45,0.26),(-6.29,0.17),(-6.09,0.36),(-5.89,0.55),(-5.74,0.17),(-5.55,0.07),(-5.4,0.12),(-5.2,0),(-2.7,0),(-2.57,0.09),(-2.45,0),(-1.0,0),(-0.82,0.26),(-0.64,0.5),(-0.48,0.12),(-0.3,0),(1.1,0),(1.27,0.05),(1.6,0),(1.78,0.36),(1.94,0.07),(2.1,0),(2.85,0),(2.98,0.12),(3.15,0),(3.3,0),(3.44,0.18),(3.6,0),(4.7,0),(4.88,0.18),(5.05,0),(5.2,0),(5.38,0.12),(5.55,0),(5.85,0),(6.0,0.07),(6.2,0),(7.1,0)]
lys_m20 = [(-7.07,0.19),(-6.91,0.58),(-6.76,0.44),(-6.6,0.29),(-6.45,0.19),(-6.29,0.19),(-6.17,1.07),(-6.01,0.34),(-5.89,0.05),(-5.7,0),(-2.85,0),(-2.73,0.03),(-2.6,0),(-1.3,0),(-1.16,0.1),(-1.05,0.31),(-0.9,0.46),(-0.74,0.1),(-0.6,0),(1.12,0),(1.27,0.12),(1.4,0.24),(1.55,0.15),(1.7,0),(2.95,0),(3.1,0.12),(3.25,0),(4.52,0),(4.68,0.12),(4.83,0.05),(5.0,0),(5.55,0),(5.69,0.08),(5.85,0),(7.1,0)]

legend_pos = ["V<sub>b</sub> = 0.8 V", "V<sub>b</sub> = 1.5 V", "V<sub>b</sub> = 2 V"]
legend_neg = ["V<sub>b</sub>= -0.8 V", "V<sub>b</sub> = -1.5 V", "V<sub>b</sub>= -2 V"]
x_ticks = [-6, -4, -2, 0, 2, 4, 6]
x_minor_ticks = [-7, -5, -3, -1, 1, 3, 5, 7]

columns = [
    [("His", his_p08, his_p15, his_p20), ("Ala", ala_p08, ala_p15, ala_p20),
     ("Asp", asp_p08, asp_p15, asp_p20), ("Gly", gly_p08, gly_p15, gly_p20),
     ("Phe", phe_p08, phe_p15, phe_p20)],
    [("His", his_m08, his_m15, his_m20), ("Ala", ala_m08, ala_m15, ala_m20),
     ("Asp", asp_m08, asp_m15, asp_m20), ("Gly", gly_m08, gly_m15, gly_m20),
     ("Phe", phe_m08, phe_m15, phe_m20)],
    [("Tyr", tyr_p08, tyr_p15, tyr_p20), ("Arg", arg_p08, arg_p15, arg_p20),
     ("Glu", glu_p08, glu_p15, glu_p20), ("Pro", pro_p08, pro_p15, pro_p20),
     ("Lys", lys_p08, lys_p15, lys_p20)],
    [("Tyr", tyr_m08, tyr_m15, tyr_m20), ("Arg", arg_m08, arg_m15, arg_m20),
     ("Glu", glu_m08, glu_m15, glu_m20), ("Pro", pro_m08, pro_m15, pro_m20),
     ("Lys", lys_m08, lys_m15, lys_m20)],
]

# ------------------------------------------------------------------
# LAYOUT / STYLE
# ------------------------------------------------------------------
W, H = 1457, 968
SERIF = "Liberation Serif"
# panel boxes in pixels: (left, right, top, bottom)
boxes = [
    [(81, 386, 105, 243), (81, 386, 272, 410), (81, 386, 438, 576), (75, 380, 603, 740), (75, 380, 768, 907)],
    [(446, 752, 105, 243), (446, 752, 272, 410), (446, 751, 438, 576), (440, 745, 603, 740), (440, 745, 768, 907)],
    [(801, 1106, 105, 243), (801, 1106, 272, 410), (801, 1105, 438, 576), (799, 1105, 603, 740), (795, 1100, 768, 907)],
    [(1166, 1457, 105, 243), (1166, 1457, 272, 410), (1166, 1457, 438, 576), (1165, 1457, 603, 740), (1161, 1457, 768, 907)],
]
label_px = [
    [(366, 123), (368, 294), (367, 459), (358, 624), (360, 795)],
    [(740, 128), (737, 297), (733, 458), (726, 625), (724, 796)],
    [(1087, 124), (1090, 294), (1084, 460), (1082, 627), (1081, 790)],
    [(1449, 125), (1449, 294), (1453, 462), (1455, 627), (1455, 788)],
]
styles = [
    [dict(mode="lines", line=dict(color="black", width=2)),
     dict(mode="lines", line=dict(color="#40E0D0", width=2, dash="9px,5px")),
     dict(mode="lines+markers", line=dict(color="#FFA500", width=1.2),
          marker=dict(color="#FFA500", size=5))],
    [dict(mode="lines", line=dict(color="#BC8F8F", width=3)),
     dict(mode="lines", line=dict(color="#0000FF", width=2, dash="9px,5px")),
     dict(mode="lines+markers", line=dict(color="#9400D3", width=1.2),
          marker=dict(color="#9400D3", size=5))],
]
offsets = [2, 1, 0]
PX_PER_EV = 305 / 14.2

fig = go.Figure()
layout = {}
shapes = []
annotations = []
n = 0
for c in range(4):
    for r in range(5):
        n += 1
        name, s08, s15, s20 = columns[c][r]
        xa = "x" if n == 1 else f"x{n}"
        ya = "y" if n == 1 else f"y{n}"
        kind = c % 2
        for k, series in enumerate((s08, s15, s20)):
            st = styles[kind][k]
            fig.add_trace(go.Scatter(
                x=[p[0] for p in series],
                y=[p[1] + offsets[k] for p in series],
                xaxis=xa, yaxis=ya,
                name=(legend_pos if kind == 0 else legend_neg)[k],
                showlegend=(r == 0 and c < 2),
                legend="legend" if kind == 0 else "legend2",
                hoverinfo="skip", **st))
        left, right, top, bottom = boxes[c][r]
        xr_lo = -7.1
        xr_hi = xr_lo + (right - left) / PX_PER_EV
        ymax = 5 if (c == 2 and r == 2) else 4
        show_y = (c == 3 and r == 3)
        layout["xaxis" if n == 1 else f"xaxis{n}"] = dict(
            domain=[left / W, right / W], anchor=ya, range=[xr_lo, xr_hi],
            tickmode="array", tickvals=x_ticks, ticks="inside", ticklen=7,
            tickwidth=1.2, tickcolor="black",
            minor=dict(tickmode="array", tickvals=x_minor_ticks,
                       ticks="inside", ticklen=6, tickwidth=1.2, tickcolor="black"),
            showline=True, linecolor="black", linewidth=1.5, mirror="allticks",
            showgrid=False, zeroline=False, automargin=False,
            tickfont=dict(family=SERIF, size=16, color="black"))
        layout["yaxis" if n == 1 else f"yaxis{n}"] = dict(
            domain=[1 - bottom / H, 1 - top / H], anchor=xa, range=[0, ymax],
            dtick=1, tick0=0, ticks="inside", ticklen=6, tickwidth=1.2, tickcolor="black",
            minor=dict(dtick=0.5, tick0=0, ticks="inside", ticklen=6,
                       tickwidth=1.2, tickcolor="black"),
            showline=True, linecolor="black", linewidth=1.5,
            mirror=("allticks" if c < 3 else False),
            showgrid=False, zeroline=False, showticklabels=show_y, automargin=False,
            tickfont=dict(family=SERIF, size=16, color="black"))
        for yy in (1, 2):
            shapes.append(dict(type="line", xref=f"{xa} domain", yref=ya,
                               x0=0, x1=1, y0=yy, y1=yy, layer="below",
                               line=dict(color="black", width=1, dash="dot")))
        lx, ly = label_px[c][r]
        annotations.append(dict(text=name, xref="paper", yref="paper",
                                x=lx / W, y=1 - ly / H, xanchor="right", yanchor="middle",
                                showarrow=False,
                                font=dict(family=SERIF, size=18, color="black")))
        if c == 1 and r == 4:
            annotations.append(dict(text="A", xref=xa, yref=ya, x=-1.15, y=2.02,
                                    ax=0, ay=-54, showarrow=True, arrowhead=2,
                                    arrowsize=1, arrowwidth=1.2, arrowcolor="black",
                                    font=dict(family="Liberation Sans", size=15, color="black")))

annotations.append(dict(text="Transmisión (u.a.)", xref="paper", yref="paper",
                        x=30 / W, y=1 - 510 / H, xanchor="center", yanchor="middle",
                        textangle=-90, showarrow=False,
                        font=dict(family=SERIF, size=31, color="black")))
for xc, yc in [(232, 951), (588, 951), (955, 947), (1318, 946)]:
    annotations.append(dict(text="Energía (eV)", xref="paper", yref="paper",
                            x=xc / W, y=1 - yc / H, xanchor="center", yanchor="middle",
                            showarrow=False,
                            font=dict(family=SERIF, size=21, color="black")))

leg_common = dict(bgcolor="white", bordercolor="black", borderwidth=1,
                  font=dict(family=SERIF, size=13, color="black"),
                  xanchor="left", yanchor="top", itemwidth=30, tracegroupgap=0)
fig.update_layout(
    width=W, height=H,
    margin=dict(l=0, r=0, t=0, b=0, pad=0, autoexpand=False),
    paper_bgcolor="white", plot_bgcolor="white",
    shapes=shapes, annotations=annotations,
    legend=dict(x=620 / W, y=1 - 8 / H, **leg_common),
    legend2=dict(x=817 / W, y=1 - 8 / H, **leg_common),
    **layout)

fig.write_html("out.html")
